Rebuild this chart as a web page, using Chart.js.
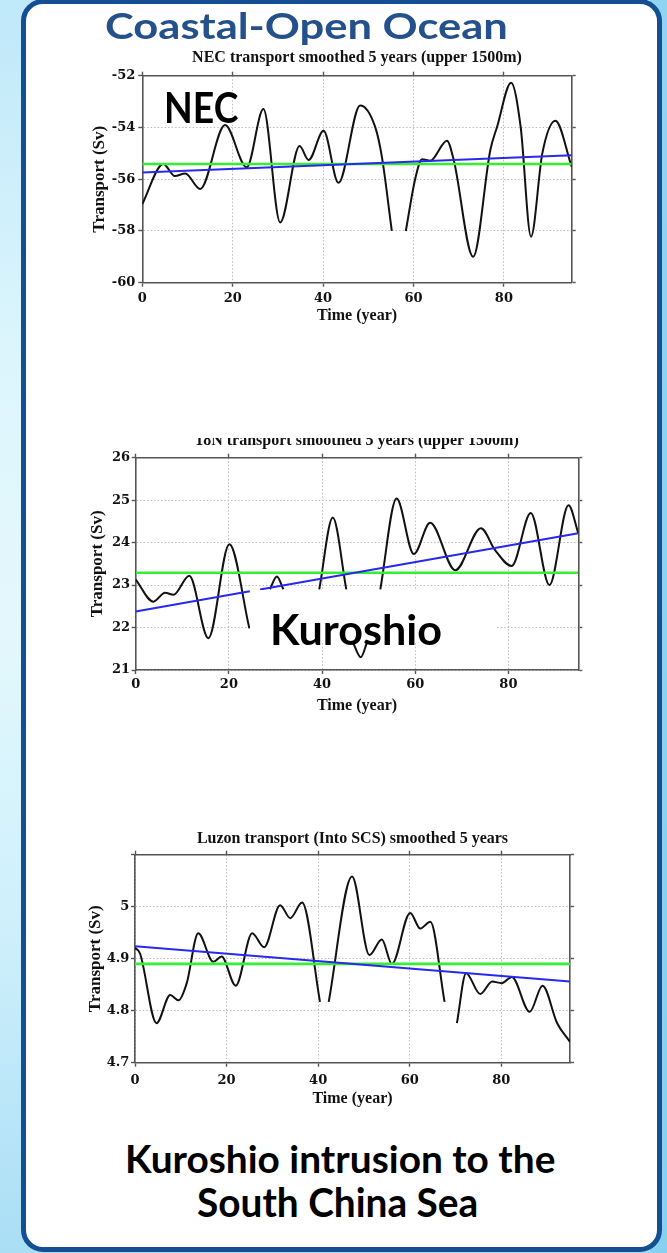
<!DOCTYPE html>
<html>
<head>
<meta charset="utf-8">
<title>Coastal-Open Ocean</title>
<script src="https://cdn.jsdelivr.net/npm/chart.js@4.4.1/dist/chart.umd.min.js"></script>
<style>
  html, body { margin: 0; padding: 0; }
  body {
    width: 667px; height: 1253px; position: relative; overflow: hidden;
    background: linear-gradient(to bottom, #bfe8f9 0%, #dcf5fc 28%, #e3f8fc 50%, #cdeffb 75%, #a9def5 100%);
  }
  #edge { position: absolute; left: 650px; top: 0; width: 17px; height: 1253px;
          background: linear-gradient(to bottom, #8fd4f2, #88d0ef); }
  #panel { position: absolute; left: 21px; top: -1px; width: 641px; height: 1253px;
           box-sizing: border-box; border: 5px solid #134f92; border-radius: 22px;
           background: #ffffff; z-index: 1; }
  canvas { position: absolute; left: 0; z-index: 2; }
  .clip { position: absolute; left: 0; width: 667px; overflow: hidden; z-index: 2; }
  .cover { position: absolute; background: #ffffff; z-index: 3; }
  .txt { position: absolute; white-space: nowrap; font-family: Lato, "Open Sans", sans-serif;
         font-weight: bold; line-height: 1.2; transform-origin: 0 0; z-index: 4; color: #000; }
  .bl { display: inline-block; width: 0; height: 0; vertical-align: baseline; }
</style>
</head>
<body>
<div id="edge"></div>
<div id="panel"></div>

<canvas id="necChart"></canvas>
<div class="clip" id="kuroClip"><canvas id="kuroChart"></canvas></div>
<canvas id="luzonChart"></canvas>

<div class="cover" id="kuroCover"></div>

<div class="txt" id="headTitle" style="color:#24508c">Coastal-Open Ocean<span class="bl"></span></div>
<div class="txt" id="necTag">NEC<span class="bl"></span></div>
<div class="txt" id="kuroTag">Kuroshio<span class="bl"></span></div>
<div class="txt" id="foot1">Kuroshio intrusion to the<span class="bl"></span></div>
<div class="txt" id="foot2">South China Sea<span class="bl"></span></div>

<script>
// ---- shared axis ticks ----
const xTickValues = [0, 20, 40, 60, 80];
const xMin = 0, xMax = 95;

// ---- NEC transport, smoothed 5 years (upper 1500m) ----
const necYears     = [0, 4.65, 7.2, 9.5, 12.8, 18.3, 23.1, 26.8, 30.5, 34.8, 36.8, 40.1, 43.4, 48.2, 51.5, 53.0, 55.2, 56.7, 58.3, 60.4, 61.9, 63.7, 67.4, 68.9, 73.2, 77.0, 78.5, 81.6, 83.7, 86.0, 88.5, 91.4, 95];
const necTransport = [-56.96, -55.41, -55.88, -55.78, -56.38, -53.91, -55.54, -53.29, -57.67, -54.72, -55.26, -54.13, -56.14, -53.15, -53.97, -55.13, -58.0, null, -58.0, -55.97, -55.23, -55.29, -54.51, -55.26, -59.0, -54.87, -53.97, -52.27, -53.97, -58.22, -55.0, -53.74, -55.52];
const necMeanYears = [0, 95];
const necMean      = [-55.41, -55.41];
const necTrendYears = [0, 95];
const necTrend      = [-55.74, -55.07];
const necYTicks  = [-60, -58, -56, -54, -52];
const necYLabels = ['-60', '-58', '-56', '-54', '-52'];

// ---- 18N (Kuroshio) transport, smoothed 5 years (upper 1500m) ----
const kuroYears     = [0, 3.8, 6.3, 8.1, 11.5, 15.6, 20.1, 24.4, 26.5, 28.8, 30.3, 31.7, 35.5, 39.4, 42.3, 45.2, 46.0, 46.7, 48.3, 49.6, 51.0, 52.5, 56.0, 59.7, 63.2, 68.6, 74.1, 77.1, 80.7, 84.8, 88.8, 92.9, 95];
const kuroTransport = [23.13, 22.61, 22.82, 22.77, 23.22, 21.75, 23.96, 21.98, null, 22.9, 23.2, 22.9, null, 22.9, 24.59, 22.9, null, 21.63, 21.3, 21.63, null, 22.9, 25.04, 23.73, 24.47, 23.35, 24.34, 23.83, 23.45, 24.7, 23.0, 24.88, 24.22];
const kuroMeanYears = [0, 95];
const kuroMean      = [23.29, 23.29];
const kuroTrendYears = [0, 24.5, 25.6, 26.7, 95];
const kuroTrend      = [22.38, 22.855, null, 22.897, 24.22];
const kuroYTicks  = [21, 22, 23, 24, 25, 26];
const kuroYLabels = ['21', '22', '23', '24', '25', '26'];

// ---- Luzon transport (into SCS), smoothed 5 years ----
const luzonYears     = [0, 1.1, 4.7, 7.7, 9.5, 11.3, 13.8, 17.1, 18.9, 22.0, 25.6, 28.2, 31.7, 33.9, 36.5, 40.4, 41.3, 42.3, 47.4, 51.2, 53.9, 56.1, 60.1, 62.3, 64.5, 67.6, 69.0, 70.3, 72.3, 75.4, 78.0, 80.1, 82.3, 86.2, 89.0, 92.2, 95];
const luzonTransport = [4.921, 4.91, 4.776, 4.83, 4.82, 4.853, 4.949, 4.894, 4.904, 4.848, 4.949, 4.922, 5.003, 4.978, 5.008, 4.817, null, 4.817, 5.058, 4.907, 4.937, 4.89, 4.988, 4.958, 4.971, 4.817, null, 4.776, 4.872, 4.832, 4.856, 4.853, 4.865, 4.798, 4.848, 4.776, 4.74];
const luzonMeanYears = [0, 95];
const luzonMean      = [4.89, 4.89];
const luzonTrendYears = [0, 95];
const luzonTrend      = [4.924, 4.856];
const luzonYTicks  = [4.7, 4.8, 4.9, 5.0, 5.1];
const luzonYLabels = ['4.7', '4.8', '4.9', '5', ''];

// ---- styling ----
const PAGE_W = 667;
const TICK = 4;
const FRAME = '#555555';
const GRID = '#bcbcbc';
const INK = '#111111';
const tickFont   = { family: 'DejaVu Serif', weight: 'bold', size: 13, lineHeight: 1.2 };
const titleFont  = { family: 'Liberation Serif', weight: 'bold', size: 16, lineHeight: 1.2 };
const xTitleFont = { family: 'Liberation Serif', weight: 'bold', size: 16, lineHeight: 1.2 };
const yTitleFont = { family: 'Liberation Serif', weight: 'bold', size: 17, lineHeight: 1.2 };

// frame / plot placement for each panel (page pixels)
const necGeo   = { canvasTop: 38,  plotLeft: 142.3, plotRight: 571.7, plotTop: 75.7,  plotBottom: 282.7,  titleY: 57.4,  xTitleY: 316,    yTitleX: 99.5, xPad: 4.5, yPad: 3 };
const kuroGeo  = { canvasTop: 415, plotLeft: 135.7, plotRight: 578.3, plotTop: 457.7, plotBottom: 670,    titleY: 441,   xTitleY: 706.3,  yTitleX: 97.5, xPad: 2.5, yPad: 1.7 };
const luzonGeo = { canvasTop: 812, plotLeft: 135,   plotRight: 570,   plotTop: 854.7, plotBottom: 1062.7, titleY: 838.4, xTitleY: 1098.6, yTitleX: 95.5, xPad: 6,   yPad: 1.7 };

const toPoints = (xs, ys) => xs.map((x, i) => ({ x: x, y: ys[i] }));

function fixedTicks(values) {
  return scale => { scale.ticks = values.map(v => ({ value: v })); };
}

function gridOpts(onArea) {
  return {
    display: true, drawOnChartArea: onArea, drawTicks: true,
    color: GRID, lineWidth: 1,
    tickLength: TICK, tickColor: FRAME, tickWidth: 1.4
  };
}
const borderOpts = { display: true, color: FRAME, width: 1.6, dash: [1.5, 2] };

function buildPanel(canvas, geo, spec, offsetTop) {
  const lhT = titleFont.size * 1.2, lhX = xTitleFont.size * 1.2, lhY = yTitleFont.size * 1.2;
  const padL = geo.yTitleX - lhY / 2;
  const yAxisW = geo.plotLeft - padL;
  const padR = PAGE_W - geo.plotRight - TICK;
  const padT = geo.titleY - geo.canvasTop - lhT / 2;
  const titleGap = geo.plotTop - TICK - (geo.titleY + lhT / 2);
  const xAxisH = geo.xTitleY + lhX / 2 - geo.plotBottom;
  const contentH = geo.xTitleY + lhX / 2 - geo.canvasTop;
  const H = Math.ceil(contentH) + 2;
  const padB = H - contentH;

  canvas.width = PAGE_W; canvas.height = H;
  canvas.style.width = PAGE_W + 'px'; canvas.style.height = H + 'px';
  canvas.style.top = (geo.canvasTop - offsetTop) + 'px';

  return new Chart(canvas.getContext('2d'), {
    type: 'line',
    data: {
      datasets: [
        { label: 'trend', data: toPoints(spec.trendX, spec.trendY), borderColor: '#2828ee', borderWidth: 2,
          pointRadius: 0, spanGaps: false, tension: 0 },
        { label: 'mean', data: toPoints(spec.meanX, spec.meanY), borderColor: '#33f033', borderWidth: 2.6,
          pointRadius: 0, tension: 0 },
        { label: 'transport', data: toPoints(spec.years, spec.values), borderColor: INK, borderWidth: 2,
          pointRadius: 0, spanGaps: false, cubicInterpolationMode: 'monotone', borderJoinStyle: 'round' }
      ]
    },
    options: {
      responsive: false,
      animation: false,
      devicePixelRatio: 1,
      layout: { padding: { left: padL, right: padR, top: padT, bottom: padB } },
      plugins: {
        legend: { display: false },
        tooltip: { enabled: false },
        title: { display: true, text: spec.title, fullSize: false, color: INK, font: titleFont,
                 padding: { top: 0, bottom: titleGap } }
      },
      scales: {
        x: {
          type: 'linear', position: 'bottom', min: xMin, max: xMax,
          afterBuildTicks: fixedTicks(xTickValues),
          afterFit: s => { s.height = xAxisH; },
          grid: gridOpts(true), border: borderOpts,
          ticks: { color: INK, font: tickFont, padding: geo.xPad, maxRotation: 0, autoSkip: false },
          title: { display: true, text: 'Time (year)', color: INK, font: xTitleFont, padding: { top: 0, bottom: 0 } }
        },
        x2: {
          type: 'linear', position: 'top', min: xMin, max: xMax,
          afterBuildTicks: fixedTicks(xTickValues),
          afterFit: s => { s.height = TICK; },
          grid: gridOpts(false), border: borderOpts,
          ticks: { display: false }
        },
        y: {
          type: 'linear', position: 'left', min: spec.yTicks[0], max: spec.yTicks[spec.yTicks.length - 1],
          afterBuildTicks: fixedTicks(spec.yTicks),
          afterFit: s => { s.width = yAxisW; },
          grid: gridOpts(true), border: borderOpts,
          ticks: { color: INK, font: tickFont, padding: geo.yPad, autoSkip: false,
                   callback: (v, i) => spec.yLabels[i] },
          title: { display: true, text: 'Transport (Sv)', color: INK, font: yTitleFont, padding: { top: 0, bottom: 0 } }
        },
        y2: {
          type: 'linear', position: 'right', min: spec.yTicks[0], max: spec.yTicks[spec.yTicks.length - 1],
          afterBuildTicks: fixedTicks(spec.yTicks),
          afterFit: s => { s.width = TICK; },
          grid: gridOpts(false), border: borderOpts,
          ticks: { display: false }
        }
      }
    }
  });
}

buildPanel(document.getElementById('necChart'), necGeo, {
  title: 'NEC transport smoothed 5 years (upper 1500m)',
  years: necYears, values: necTransport, meanX: necMeanYears, meanY: necMean,
  trendX: necTrendYears, trendY: necTrend, yTicks: necYTicks, yLabels: necYLabels
}, 0);

// the 18N panel sits in a wrapper whose top edge trims its heading
const kuroClipTop = 437.5;
const kuroCanvas = document.getElementById('kuroChart');
buildPanel(kuroCanvas, kuroGeo, {
  title: '18N transport smoothed 5 years (upper 1500m)',
  years: kuroYears, values: kuroTransport, meanX: kuroMeanYears, meanY: kuroMean,
  trendX: kuroTrendYears, trendY: kuroTrend, yTicks: kuroYTicks, yLabels: kuroYLabels
}, kuroClipTop);
const clip = document.getElementById('kuroClip');
clip.style.top = kuroClipTop + 'px';
clip.style.height = (kuroGeo.canvasTop + kuroCanvas.height - kuroClipTop) + 'px';

buildPanel(document.getElementById('luzonChart'), luzonGeo, {
  title: 'Luzon transport (Into SCS) smoothed 5 years',
  years: luzonYears, values: luzonTransport, meanX: luzonMeanYears, meanY: luzonMean,
  trendX: luzonTrendYears, trendY: luzonTrend, yTicks: luzonYTicks, yLabels: luzonYLabels
}, 0);

// white text-box behind the "Kuroshio" tag
const cover = document.getElementById('kuroCover');
Object.assign(cover.style, { left: '250px', top: '590px', width: '245px', height: '53px' });

// slide captions: placed by baseline, sized by cap height, fitted to width
const LATO_CAP = 0.7165;
function placeText(id, left, baseline, capHeight, width) {
  const el = document.getElementById(id);
  el.style.fontSize = (capHeight / LATO_CAP) + 'px';
  el.style.left = left + 'px';
  el.style.top = '0px';
  const marker = el.querySelector('.bl');
  el.style.top = (baseline - marker.offsetTop) + 'px';
  const w = el.offsetWidth;
  el.style.transform = 'scaleX(' + (width / w) + ')';
}
placeText('headTitle', 105, 39.3, 26, 403);
placeText('necTag', 164, 123.3, 30, 74);
placeText('kuroTag', 270, 645, 30, 172);
placeText('foot1', 125, 1172.7, 27.7, 430);
placeText('foot2', 197, 1217.3, 29, 281);
</script>
</body>
</html>
